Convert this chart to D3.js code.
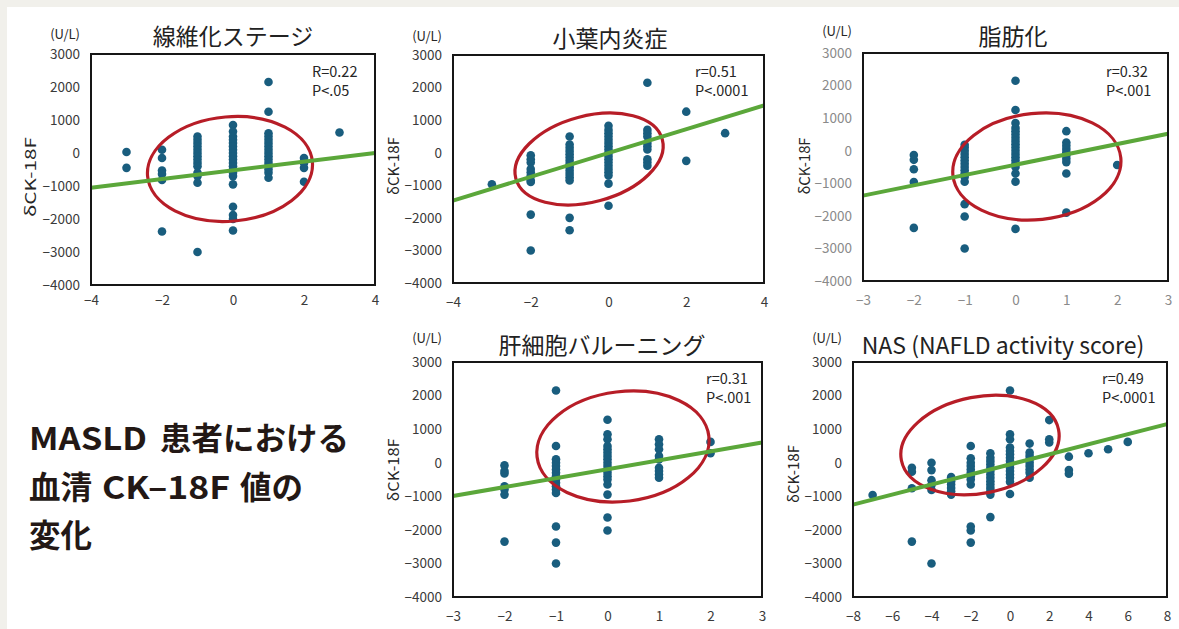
<!DOCTYPE html>
<html>
<head>
<meta charset="utf-8">
<script src="https://cdn.jsdelivr.net/npm/d3@7"></script>
<style>
  html, body { margin: 0; padding: 0; background: #f1f0eb; }
  svg { display: block; }
  text { font-family: "Noto Sans CJK JP", "Noto Sans", sans-serif; }
</style>
</head>
<body>
<svg id="chart" width="1179" height="629"></svg>
<script>
// ---- data -------------------------------------------------------------
const panelTitles = ["線維化ステージ", "小葉内炎症", "脂肪化", "肝細胞バルーニング", "NAS (NAFLD activity score)"];
const xDomains = [[-4, 4], [-4, 4], [-3, 3], [-3, 3], [-8, 8]];
const xTickValues = [
  [-4, -2, 0, 2, 4],
  [-4, -2, 0, 2, 4],
  [-3, -2, -1, 0, 1, 2, 3],
  [-3, -2, -1, 0, 1, 2, 3],
  [-8, -6, -4, -2, 0, 2, 4, 6, 8]
];
const yDomain = [-4000, 3000];
const yTickValues = [-4000, -3000, -2000, -1000, 0, 1000, 2000, 3000];
const yUnit = "(U/L)";
const yAxisLabel = "δCK-18F";
const statR = ["R=0.22", "r=0.51", "r=0.32", "r=0.31", "r=0.49"];
const statP = ["P<.05", "P<.0001", "P<.001", "P<.001", "P<.0001"];

// regression lines: [[x0, y0], [x1, y1]] in data units
const fitLines = [
  [[-4, -1050], [4, 0]],
  [[-4, -1470], [4, 1450]],
  [[-3, -1380], [3, 520]],
  [[-3, -990], [3, 600]],
  [[-8, -1250], [8, 1150]]
];

// highlighted clusters: centre and semi-axes in data units, tilt in degrees
const highlightEllipses = [
  { cx: -0.085, cy: -485, rx: 2.33, ry: 1582, tilt: -5 },
  { cx: -0.50, cy: -193, rx: 1.95, ry: 1320, tilt: -15 },
  { cx: 0.42, cy: -485, rx: 1.66, ry: 1630, tilt: -6 },
  { cx: 0.30, cy: 483, rx: 1.68, ry: 1635, tilt: -7 },
  { cx: -1.53, cy: 528, rx: 4.08, ry: 1436, tilt: -11 }
];

// change in score (x) vs. δCK-18F values (U/L) for each score change
const fibrosisPoints = [
  [-3, [30, -450]],
  [-2, [100, -150, -530, -640, -820, -2380]],
  [-1, [500, 400, 300, 200, 100, 0, -100, -200, -300, -400, -600, -700, -900, -3000]],
  [0, [850, 650, 500, 400, 300, 200, 100, 0, -100, -200, -300, -400, -500, -600, -700, -950, -1630, -1880, -2000, -2350]],
  [1, [2150, 1250, 600, 500, 400, 300, 200, 100, 0, -100, -200, -300, -400, -500, -600, -750]],
  [2, [-150, -300, -450, -870]],
  [3, [620]]
];
const inflammationPoints = [
  [-3, [-970]],
  [-2, [-80, -200, -300, -500, -600, -700, -850, -900, -1900, -3000]],
  [-1, [500, 250, 150, 50, -50, -150, -250, -350, -450, -550, -650, -750, -850, -2000, -2380]],
  [0, [830, 700, 600, 500, 400, 300, 200, 100, 0, -100, -200, -300, -400, -500, -600, -700, -950, -1630]],
  [1, [2150, 700, 600, 500, 300, 200, 100, -200, -300, -400]],
  [2, [1260, -250]],
  [3, [600]]
];
const steatosisPoints = [
  [-2, [-130, -280, -570, -960, -2370]],
  [-1, [180, 100, 0, -100, -200, -300, -400, -500, -600, -700, -800, -950, -1640, -2020, -3000]],
  [0, [2150, 1250, 850, 700, 600, 500, 400, 300, 200, 100, 0, -100, -200, -300, -400, -500, -700, -950, -2400]],
  [1, [600, 250, 150, 50, -50, -150, -250, -350, -700, -1900]],
  [2, [-440]]
];
const ballooningPoints = [
  [-2, [-80, -250, -320, -700, -800, -950, -2350]],
  [-1, [2150, 500, 100, 0, -100, -200, -300, -400, -500, -600, -700, -800, -900, -1900, -2380, -3000]],
  [0, [1280, 850, 700, 500, 400, 300, 200, 100, 0, -100, -200, -300, -400, -500, -650, -950, -1630, -2020]],
  [1, [700, 550, 400, 200, 100, -150, -250, -350, -450]],
  [2, [620, 280]]
];
const nasPoints = [
  [-7, [-960]],
  [-5, [-150, -270, -760, -2350]],
  [-4, [0, -220, -520, -660, -810, -3000]],
  [-3, [-430, -550, -650, -750, -850, -950]],
  [-2, [500, 130, 0, -100, -200, -300, -400, -500, -650, -1900, -2020, -2380]],
  [-1, [280, 150, 50, -50, -150, -250, -350, -450, -550, -650, -750, -850, -950, -1620]],
  [0, [2150, 850, 700, 450, 350, 250, 150, 50, -50, -150, -250, -350, -450, -570, -930]],
  [1, [570, 300, 200, 100, 0, -100, -200, -300, -450]],
  [2, [1270, 700, 600]],
  [3, [180, -220, -330]],
  [4, [280]],
  [5, [400]],
  [6, [620]]
];
const panelPoints = [fibrosisPoints, inflammationPoints, steatosisPoints, ballooningPoints, nasPoints];

// headline text split into Latin / CJK runs
const headline = [
  ["MASLD", "患者における"],
  ["血清", "CK–18F", "値の"],
  ["変化"]
];

// ---- layout -----------------------------------------------------------
const layout = [
  { left: 91,  right: 375,  top: 54,  bottom: 285, titleX: 233,  titleY: 45,  unitY: 39,  xPad: 10.5, lab: [31, 177, 80],  stat: [312, 76.5],  tick: "#3a3a3a" },
  { left: 453, right: 764,  top: 55,  bottom: 283, titleX: 610,  titleY: 47,  unitY: 41,  xPad: 14,   lab: [394, 166, 58], stat: [695, 76.5],  tick: "#3a3a3a" },
  { left: 863, right: 1168, top: 53,  bottom: 281, titleX: 1013, titleY: 45,  unitY: 36,  xPad: 14,   lab: [805, 166, 57], stat: [1106, 76.5], tick: "#8a8a8a" },
  { left: 453, right: 762,  top: 362, bottom: 597, titleX: 602,  titleY: 354, unitY: 343, xPad: 14,   lab: [394, 470, 63], stat: [706, 383.5], tick: "#3a3a3a" },
  { left: 853, right: 1167, top: 362, bottom: 597, titleX: 1003, titleY: 354, unitY: 343, xPad: 14,   lab: [794, 474, 58], stat: [1102, 383.5], tick: "#3a3a3a" }
];
// headline runs: [x, baseline, fitted width or null, latin?]
const headlineRuns = [
  [[29, 450, 118, true], [160, 450, null, false]],
  [[29, 499, null, false], [102, 499, 128, true], [240, 499, null, false]],
  [[29, 547, null, false]]
];

const DOT = "#195d7e", FIT = "#5ba73a", RING = "#b71d27", INK = "#262626";

const svg = d3.select("#chart");
svg.append("rect").attr("x", 7).attr("y", 7).attr("width", 1179 - 7).attr("height", 629 - 7).attr("fill", "#ffffff");

layout.forEach((L, i) => {
  const x = d3.scaleLinear().domain(xDomains[i]).range([L.left, L.right]);
  const y = d3.scaleLinear().domain(yDomain).range([L.bottom, L.top]);
  const g = svg.append("g");

  // axes
  const yAx = g.append("g").attr("transform", `translate(${L.left},0)`)
    .call(d3.axisLeft(y).tickValues(yTickValues).tickSize(0).tickPadding(11).tickFormat(d3.format("d")));
  const xAx = g.append("g").attr("transform", `translate(0,${L.bottom})`)
    .call(d3.axisBottom(x).tickValues(xTickValues[i]).tickSize(0).tickPadding(L.xPad).tickFormat(d3.format("d")));
  [yAx, xAx].forEach(a => {
    a.select(".domain").remove();
    a.selectAll("text").attr("font-size", 13.5).attr("fill", L.tick)
      .attr("font-family", "'Noto Sans CJK JP', 'Noto Sans', sans-serif");
  });

  // units and axis title
  g.append("text").attr("x", L.left - 11).attr("y", L.unitY).attr("text-anchor", "end")
    .attr("font-size", 13).attr("fill", INK).text(yUnit);
  g.append("text")
    .attr("transform", `translate(${L.lab[0]},${L.lab[1]}) rotate(-90)`)
    .attr("text-anchor", "middle").attr("dy", "0.35em")
    .attr("font-size", 15).attr("fill", INK)
    .attr("textLength", L.lab[2]).attr("lengthAdjust", "spacingAndGlyphs")
    .text(yAxisLabel);

  // panel title
  g.append("text").attr("x", L.titleX).attr("y", L.titleY).attr("text-anchor", "middle")
    .attr("font-size", 23).attr("fill", "#222").text(panelTitles[i]);

  // scatter points
  const pts = panelPoints[i].flatMap(([xv, vals]) => vals.map(v => [xv, v]));
  g.append("g").selectAll("circle").data(pts).join("circle")
    .attr("cx", d => x(d[0])).attr("cy", d => y(d[1])).attr("r", 4.3).attr("fill", DOT);

  // highlighted cluster
  const E = highlightEllipses[i];
  const ecx = x(E.cx), ecy = y(E.cy);
  g.append("ellipse")
    .attr("cx", ecx).attr("cy", ecy)
    .attr("rx", x(E.cx + E.rx) - ecx).attr("ry", ecy - y(E.cy + E.ry))
    .attr("transform", `rotate(${E.tilt},${ecx},${ecy})`)
    .attr("fill", "none").attr("stroke", RING).attr("stroke-width", 3.2);

  // regression line
  g.append("path")
    .attr("d", d3.line().x(d => x(d[0])).y(d => y(d[1]))(fitLines[i]))
    .attr("fill", "none").attr("stroke", FIT).attr("stroke-width", 4);

  // plot frame
  g.append("rect").attr("x", L.left).attr("y", L.top)
    .attr("width", L.right - L.left).attr("height", L.bottom - L.top)
    .attr("fill", "none").attr("stroke", "#161616").attr("stroke-width", 2);

  // correlation statistics
  [statR[i], statP[i]].forEach((s, k) => {
    g.append("text").attr("x", L.stat[0]).attr("y", L.stat[1] + 19.5 * k)
      .attr("font-family", "'Liberation Sans', Arial, sans-serif")
      .attr("font-size", 14.5).attr("fill", INK).text(s);
  });
});

// headline block
headline.forEach((runs, li) => {
  runs.forEach((txt, ri) => {
    const [hx, hy, w, latin] = headlineRuns[li][ri];
    const t = svg.append("text").attr("x", hx).attr("y", hy)
      .attr("font-size", 31.5).attr("font-weight", 700).attr("fill", "#231815")
      .attr("font-family", latin ? "Inter, 'Noto Sans CJK JP', sans-serif" : "'Noto Sans CJK JP', sans-serif")
      .text(txt);
    if (w) t.attr("textLength", w).attr("lengthAdjust", "spacingAndGlyphs");
  });
});
</script>
</body>
</html>
